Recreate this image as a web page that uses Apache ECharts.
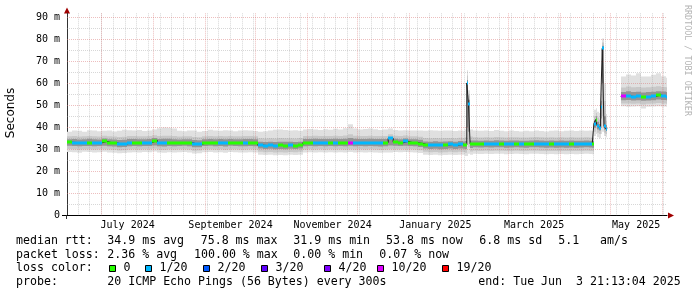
<!DOCTYPE html>
<html><head><meta charset="utf-8"><title>SmokePing</title>
<script src="https://cdn.jsdelivr.net/npm/echarts@6/dist/echarts.min.js"></script>
<style>html,body{margin:0;padding:0;background:#fff;}#chart{width:697px;height:297px;}</style>
</head><body><div id="chart"></div>
<script>
// ---------------- data ----------------
const axisStartTime = '2024-06-10T06:00:00';
const axisSpanDays = 358.7;
const sampleEndDay = 358.7;
const sampleDay = [
  0,3,6,9,12,15,18,21,24,27,30,33,36,39,42,45,48,51,54,57,
  60,63,66,69,72,75,78,81,84,87,90,93,96,99,102,105,108,111,114,117,
  120,123,126,129,132,135,138,141,144,147,150,153,156,159,162,165,168,171,174,177,
  180,183,186,189,192,195,198,201,204,207,210,213,216,219,222,225,228,231,234,237,
  238,239,240,241,243,246,249,252,255,258,261,264,267,270,273,276,279,282,285,288,291,294,297,300,303,306,309,312,
  314,315,316,317,318,319,320,321,322,323,
  331,334,337,340,343,346,349,352,355,358
];
const median = [
  33.2,33.1,33.0,33.0,33.1,33.0,33.0,33.6,33.0,32.9,
  32.4,32.5,33.0,33.1,33.0,33.0,33.1,34.0,33.0,33.0,
  33.1,33.0,33.0,33.1,33.0,32.4,32.4,33.0,33.1,33.0,
  33.0,33.0,33.1,33.0,33.0,33.0,33.1,33.0,31.9,31.7,
  31.8,31.7,31.8,31.7,31.8,31.7,31.9,33.0,33.0,33.0,
  33.0,33.0,33.0,33.0,33.0,33.0,33.1,33.0,33.0,33.0,
  33.0,33.0,33.0,33.1,35.0,33.2,33.0,33.6,33.0,33.0,
  32.6,32.0,31.9,32.1,31.9,32.0,32.2,31.9,32.3,32.0,
  32.0,60.1,50.7,32.4,32.5,
  32.4,32.5,32.4,32.6,32.5,32.4,32.5,32.5,32.4,32.4,32.5,32.6,32.5,32.4,32.5,32.4,32.5,32.4,32.5,32.4,32.4,32.5,32.4,
  32.3,41.7,43.5,40.5,39.8,49.2,75.8,40.5,39.4,null,
  54.0,54.1,53.9,54.0,53.6,53.9,54.0,54.6,54.2,53.8
];
const lossIdx = [
  0,1,1,1,0,1,1,0,0,0, 1,1,1,0,0,1,1,0,1,1, 0,0,0,0,0,1,1,0,0,0, 1,1,0,0,0,1,0,0,1,1,
  1,1,0,0,1,0,0,0,0,1, 1,1,0,1,0,0,5,1,1,1, 1,1,1,0,1,0,0,1,0,0, 0,0,1,1,1,0,1,1,1,0,
  0,1,1,0,0,0,1,1,1,0,1,1,0,1,0,0,1,1,1,0,1,1,1,0,1,1,1,1,
  0,1,0,1,1,1,1,1,1,0,
  5,1,1,1,0,1,1,0,1,1
];
const pingMin = [
  28.8,28.7,28.5,28.9,28.8,28.6,28.7,28.9,28.6,28.5,
  28.2,28.3,28.6,28.7,28.6,28.8,28.7,29.0,28.6,28.5,
  28.7,28.6,28.7,28.8,28.6,28.1,28.2,28.7,28.8,28.6,
  28.7,28.5,28.8,28.7,28.6,28.6,28.7,28.6,27.6,27.4,
  27.5,27.3,27.4,27.3,27.5,27.4,27.6,28.6,28.7,28.6,
  28.7,28.6,28.7,28.6,28.7,28.6,28.8,28.6,28.7,28.6,
  28.7,28.6,28.5,28.6,28.6,28.8,28.7,28.8,28.7,28.6,
  28.3,27.6,27.4,27.5,27.3,27.4,27.6,27.4,27.6,27.5,
  27.0,27.0,28.0,27.5,28.0,
  27.9,28.0,27.9,28.0,28.0,27.8,27.9,28.0,27.9,27.8,28.0,28.0,27.9,27.8,27.9,27.8,27.9,27.8,27.9,27.8,27.9,28.0,27.9,
  27.8,36.0,37.0,35.5,35.0,37.0,38.0,36.0,35.5,null,
  49.5,49.3,49.4,49.5,48.5,49.3,49.4,49.6,49.4,49.3
];
const ping10 = [
  30.2,30.0,29.9,30.1,30.0,29.9,30.0,30.1,29.9,29.8,
  29.5,29.6,29.9,30.0,29.9,30.1,30.0,30.3,29.9,29.8,
  30.0,29.9,30.0,30.1,29.9,29.4,29.5,30.0,30.1,29.9,
  30.0,29.8,30.1,30.0,29.9,29.9,30.0,29.9,28.9,28.7,
  28.8,28.6,28.7,28.6,28.8,28.7,28.9,29.9,30.0,29.9,
  30.0,29.9,30.0,29.9,30.0,29.9,30.1,29.9,30.0,29.9,
  30.0,29.9,29.8,29.9,30.0,30.1,30.0,30.1,30.0,29.9,
  29.6,28.9,28.7,28.8,28.6,28.7,28.9,28.7,28.9,28.8,
  28.5,32.0,31.0,29.0,29.4,
  29.3,29.4,29.3,29.4,29.4,29.2,29.3,29.4,29.3,29.2,29.4,29.4,29.3,29.2,29.3,29.2,29.3,29.2,29.3,29.2,29.3,29.4,29.3,
  29.2,38.0,39.5,37.5,37.0,40.0,45.0,37.5,37.0,null,
  50.8,50.8,50.7,50.8,50.3,50.7,50.8,51.0,50.8,50.7
];
const ping25 = [
  31.6,31.5,31.4,31.5,31.5,31.4,31.5,31.6,31.4,31.3,
  31.0,31.1,31.4,31.5,31.4,31.5,31.5,31.8,31.4,31.3,
  31.5,31.4,31.5,31.6,31.4,30.9,31.0,31.5,31.6,31.4,
  31.5,31.3,31.6,31.5,31.4,31.4,31.5,31.4,30.4,30.2,
  30.3,30.1,30.2,30.1,30.3,30.2,30.4,31.4,31.5,31.4,
  31.5,31.4,31.5,31.4,31.5,31.4,31.6,31.4,31.5,31.4,
  31.5,31.4,31.3,31.4,31.8,31.6,31.5,31.6,31.5,31.4,
  31.1,30.4,30.2,30.3,30.1,30.2,30.4,30.2,30.4,30.3,
  30.2,40.0,38.0,30.6,30.9,
  30.8,30.9,30.8,30.9,30.9,30.7,30.8,30.9,30.8,30.7,30.9,30.9,30.8,30.7,30.8,30.7,30.8,30.7,30.8,30.7,30.8,30.9,30.8,
  30.7,39.8,41.5,39.0,38.5,44.0,60.0,39.0,38.3,null,
  52.3,52.4,52.2,52.3,52.0,52.2,52.3,52.6,52.4,52.3
];
const ping75 = [
  34.6,34.7,34.5,34.6,34.8,34.6,34.5,34.9,34.6,34.5,
  34.2,34.3,34.7,34.7,34.6,34.6,34.7,35.1,34.7,34.8,
  34.8,34.6,34.5,34.6,34.6,34.2,34.1,34.6,34.7,34.6,
  34.7,34.6,34.7,34.6,34.6,34.7,34.7,34.6,33.4,33.3,
  33.4,33.3,33.5,33.4,33.4,33.3,33.5,34.7,34.7,34.8,
  34.7,34.7,34.7,34.8,34.7,34.8,35.2,34.8,34.7,34.7,
  34.8,34.7,34.7,34.7,35.6,34.8,34.6,34.9,34.6,34.6,
  34.3,33.6,33.5,33.7,33.5,33.6,33.7,33.5,33.8,33.6,
  33.8,61.5,52.5,34.0,34.0,
  33.9,34.0,33.9,34.1,34.0,33.9,34.0,34.0,33.9,33.9,34.0,34.1,34.0,33.9,34.0,33.9,34.0,33.9,34.0,33.9,33.9,34.0,33.9,
  33.8,43.0,45.0,42.5,41.5,52.0,77.0,45.0,41.0,null,
  56.0,56.3,56.0,56.1,55.8,56.0,56.1,56.4,56.2,56.0
];
const ping90 = [
  35.9,36.0,35.8,35.9,36.1,35.9,35.8,36.2,35.9,35.8,
  35.6,35.7,36.0,36.1,35.9,35.9,36.0,36.4,36.1,36.2,
  36.2,36.0,35.8,35.9,35.9,35.6,35.5,35.9,36.0,35.9,
  36.0,35.9,36.0,35.9,35.9,36.0,36.0,35.9,35.0,34.9,
  35.0,34.9,35.1,35.0,35.0,34.9,35.1,36.1,36.1,36.2,
  36.1,36.0,36.0,36.2,36.1,36.3,36.8,36.2,36.1,36.1,
  36.2,36.1,36.0,36.1,36.8,36.2,36.0,36.3,35.9,35.9,
  35.7,35.1,35.0,35.2,35.0,35.1,35.2,35.0,35.3,35.1,
  35.5,63.5,54.5,35.8,35.5,
  35.4,35.5,35.4,35.6,35.5,35.4,35.5,35.5,35.4,35.4,35.5,35.6,35.5,35.4,35.5,35.4,35.5,35.4,35.5,35.4,35.4,35.5,35.4,
  35.3,45.0,46.5,44.5,43.5,55.0,78.5,52.0,43.0,null,
  58.0,58.5,58.2,58.3,58.0,58.2,58.4,58.6,58.3,58.2
];
const pingMax = [
  38.0,38.6,38.4,38.0,38.7,38.5,38.2,38.4,38.6,38.1,
  38.4,38.9,38.7,38.5,38.8,38.3,38.6,39.0,39.6,39.9,
  39.8,39.5,38.4,38.2,38.6,38.5,38.0,38.3,38.9,38.6,
  38.4,38.7,38.5,38.2,38.6,38.7,38.5,38.3,38.0,38.2,
  38.6,38.9,39.0,38.8,38.5,38.7,38.4,39.0,39.2,39.0,
  38.8,39.1,38.9,39.3,39.0,39.6,41.4,39.4,39.0,39.2,
  39.5,39.1,38.8,39.0,39.5,38.8,38.6,38.7,38.5,38.6,
  38.6,38.4,38.7,38.5,38.4,38.6,38.5,38.3,38.6,38.4,
  39.0,65.9,56.8,39.0,38.6,
  38.4,38.5,38.3,38.8,38.4,38.2,38.5,38.3,38.1,38.4,38.2,38.5,38.3,38.1,38.4,38.6,38.2,38.4,38.5,38.3,38.6,38.4,38.5,
  38.3,48.0,48.6,47.0,46.5,58.0,80.3,60.0,46.0,null,
  63.0,64.0,63.5,64.5,63.0,63.0,63.8,64.5,63.2,62.5
];
const monthStarts = ['2024-07-01','2024-08-01','2024-09-01','2024-10-01','2024-11-01','2024-12-01',
  '2025-01-01','2025-02-01','2025-03-01','2025-04-01','2025-05-01','2025-06-01'];
const labelMonths = [[2024,6],[2024,8],[2024,10],[2025,0],[2025,2],[2025,4]];
const labelTexts = ['July 2024','September 2024','November 2024','January 2025','March 2025','May 2025'];
const firstWeekLine = '2024-06-17T00:00:00';
const yMax = 91.7;
const yMajorTicks = [10,20,30,40,50,60,70,80,90];
const yMinorTicks = [5,15,25,35,45,55,65,75,85];
const lossLabels = ['0','1/20','2/20','3/20','4/20','10/20','19/20'];
const lossColors = ['#26ff00','#00b8ff','#0059ff','#5e00ff','#7e00ff','#dd00ff','#ff0000'];
const rttRow = ['median rtt:','34.9 ms avg','75.8 ms max','31.9 ms min','53.8 ms now','6.8 ms sd','5.1','am/s'];
const lossRow = ['packet loss:','2.36 % avg','100.00 % max','0.00 % min','0.07 % now'];
const probeRow = ['probe:','20 ICMP Echo Pings (56 Bytes) every 300s','end: Tue Jun  3 21:13:04 2025'];

// ---------------- build ----------------
const DAY = 86400000;
const t0 = new Date(axisStartTime).getTime();
const tEnd = t0 + axisSpanDays * DAY;
const times = sampleDay.map(d => t0 + d * DAY);
const bounds = times.concat([t0 + sampleEndDay * DAY]);
const N = times.length;
const monthTimes = monthStarts.map(s => new Date(s + 'T00:00:00').getTime());
const labelTimes = labelMonths.map(([y, m]) => (new Date(y, m, 1).getTime() + new Date(y, m + 1, 1).getTime()) / 2);
const weekTimes = [];
for (let t = new Date(firstWeekLine).getTime(); t < tEnd; t += 7 * DAY) weekTimes.push(t);

const smokeBands = [
  {lo: pingMin, hi: pingMax, color: '#e0e0e0'},
  {lo: ping10, hi: ping90, color: '#c8c8c8'},
  {lo: ping25, hi: ping75, color: '#949494'}
];
const MONO = 'DejaVu Sans Mono';
const majorColor = 'rgba(215,110,110,0.45)';
const minorColor = 'rgba(150,150,150,0.38)';

const chart = echarts.init(document.getElementById('chart'), null, {renderer: 'canvas', width: 697, height: 297});

function xPix(api, t) { return Math.round(api.coord([t, 0])[0]); }

const gridSeries = {
  type: 'custom', z: 2, silent: true, clip: false, data: [[t0, 0]],
  renderItem: (params, api) => {
    const ch = [];
    const yTop = api.coord([t0, yMax])[1];
    const yBot = api.coord([t0, 0])[1];
    const xL = api.coord([t0, 0])[0];
    const xR = api.coord([tEnd, 0])[0];
    const vline = (t, c) => { const x = Math.floor(api.coord([t, 0])[0]) + 0.5;
      ch.push({type: 'line', shape: {x1: x, y1: yTop, x2: x, y2: yBot}, style: {stroke: c, lineWidth: 1, lineDash: [1, 1]}}); };
    const hline = (v, c) => { const y = Math.floor(api.coord([t0, v])[1]) + 0.5;
      ch.push({type: 'line', shape: {x1: xL, y1: y, x2: xR, y2: y}, style: {stroke: c, lineWidth: 1, lineDash: [1, 1]}}); };
    weekTimes.forEach(t => vline(t, minorColor));
    yMinorTicks.forEach(v => hline(v, minorColor));
    monthTimes.forEach(t => vline(t, majorColor));
    yMajorTicks.forEach(v => hline(v, majorColor));
    return {type: 'group', children: ch};
  }
};

const smokeSeries = {
  type: 'custom', z: 1, silent: true, clip: true,
  data: times.map((t, i) => [t, median[i]]),
  renderItem: (params, api) => {
    const i = params.dataIndex;
    if (median[i] == null) return null;
    const xa = xPix(api, bounds[i]), xb = xPix(api, bounds[i + 1]);
    const children = smokeBands.map(b => {
      const yT = api.coord([bounds[i], b.hi[i]])[1];
      const yB = api.coord([bounds[i], b.lo[i]])[1];
      return {type: 'rect', shape: {x: xa, y: yT, width: xb - xa, height: yB - yT}, style: {fill: b.color}};
    });
    return {type: 'group', children};
  }
};

const medianLine = {
  type: 'line', z: 3, silent: true, step: 'end', symbol: 'none', connectNulls: false,
  data: times.map((t, i) => [t, median[i]]).concat([[bounds[N], median[N - 1]]]),
  lineStyle: {color: '#202020', width: 1}
};

const lossSeries = {
  type: 'custom', z: 4, silent: true, clip: true,
  data: times.map((t, i) => [t, median[i]]),
  renderItem: (params, api) => {
    const i = params.dataIndex;
    if (median[i] == null) return null;
    const xa = xPix(api, bounds[i]), xb = xPix(api, bounds[i + 1]);
    const y = Math.round(api.coord([bounds[i], median[i]])[1]);
    return {type: 'rect', shape: {x: xa, y: y - 1.5, width: xb - xa, height: 3}, style: {fill: lossColors[lossIdx[i]]}};
  }
};

// legend / text graphics
const txt = (x, y, text, extra) => ({type: 'text', x, y, silent: true,
  style: Object.assign({text, fontFamily: MONO, fontSize: 11.6, fill: '#000', align: 'left', verticalAlign: 'middle'}, extra || {})});
const rowY = [241, 254.7, 268.4, 282.1];
const rttX = [16, 107.3, 200.7, 293.3, 386, 479.3, 558.3, 600];
const lossX = [16, 107.3, 194, 293.3, 379.3];
const probeX = [16, 107.3, 478.3];
const boxX = [109, 145, 203, 261, 324, 377, 442];
const graphics = [];
rttRow.forEach((s, k) => graphics.push(txt(rttX[k], rowY[0], s)));
lossRow.forEach((s, k) => graphics.push(txt(lossX[k], rowY[1], s)));
graphics.push(txt(16, rowY[2], 'loss color:'));
lossLabels.forEach((s, k) => {
  graphics.push({type: 'rect', silent: true, shape: {x: boxX[k] + 0.5, y: 265.5, width: 6, height: 6},
    style: {fill: lossColors[k], stroke: '#000', lineWidth: 1}});
  graphics.push(txt(boxX[k] + 14.5, rowY[2], s));
});
probeRow.forEach((s, k) => graphics.push(txt(probeX[k], rowY[3], s)));
graphics.push({type: 'text', x: 10.5, y: 113, rotation: Math.PI / 2, silent: true,
  style: {text: 'Seconds', fontFamily: 'DejaVu Sans', fontSize: 12, fill: '#000', align: 'center', verticalAlign: 'middle'}});
graphics.push({type: 'text', x: 687, y: 5, rotation: -Math.PI / 2, silent: true,
  style: {text: 'RRDTOOL / TOBI OETIKER', fontFamily: MONO, fontSize: 8.4, fill: '#b4b4b4', align: 'left', verticalAlign: 'middle'}});
graphics.push({type: 'polygon', silent: true, shape: {points: [[668, 212.5], [674, 215.5], [668, 218.5]]}, style: {fill: '#a00000'}});
graphics.push({type: 'polygon', silent: true, shape: {points: [[64, 13.5], [67, 7.5], [70, 13.5]]}, style: {fill: '#a00000'}});
graphics.push({type: 'line', silent: true, shape: {x1: 62, y1: 215.5, x2: 67, y2: 215.5}, style: {stroke: '#000', lineWidth: 1}});
graphics.push({type: 'line', silent: true, shape: {x1: 66.5, y1: 215, x2: 66.5, y2: 219}, style: {stroke: '#333', lineWidth: 1}});

const option = {
  animation: false,
  backgroundColor: '#ffffff',
  grid: {left: 67, top: 13.3, width: 600, height: 202.2, containLabel: false},
  xAxis: {
    type: 'value', min: t0, max: tEnd, scale: true,
    axisLine: {show: true, onZero: false, lineStyle: {color: '#000', width: 1}},
    axisTick: {show: false}, splitLine: {show: false}, minorTick: {show: false},
    axisLabel: {
      customValues: labelTimes,
      formatter: (v) => { const k = labelTimes.findIndex(t => Math.abs(t - v) < DAY); return k >= 0 ? labelTexts[k] : ''; },
      fontFamily: MONO, fontSize: 10, color: '#000', margin: 5, hideOverlap: false
    }
  },
  yAxis: {
    type: 'value', min: 0, max: yMax, interval: 10,
    axisLine: {show: true, onZero: false, lineStyle: {color: '#333', width: 1}},
    axisTick: {show: false}, splitLine: {show: false},
    axisLabel: {
      formatter: (v) => v === 0 ? '0' : (v % 10 === 0 ? v + ' m' : ''),
      fontFamily: MONO, fontSize: 10, color: '#000', margin: 7, showMaxLabel: false
    }
  },
  series: [smokeSeries, gridSeries, medianLine, lossSeries],
  graphic: graphics
};
chart.setOption(option);
</script>
</body></html>
